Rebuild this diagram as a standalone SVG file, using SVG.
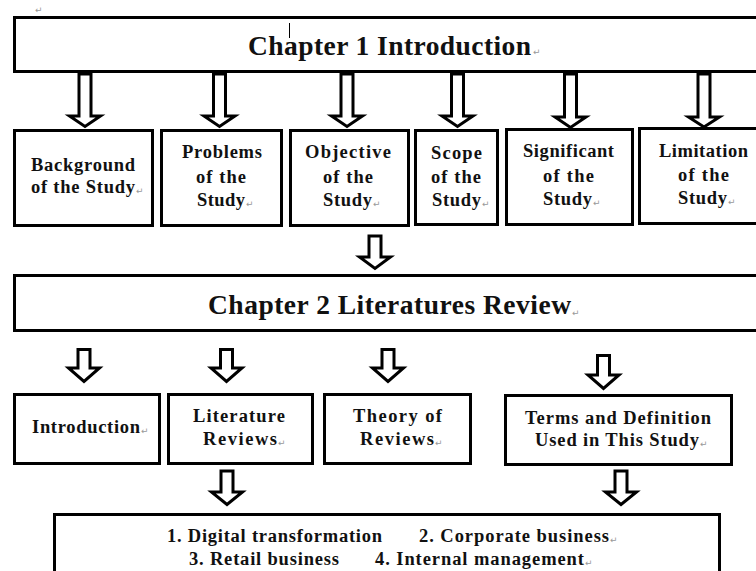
<svg xmlns="http://www.w3.org/2000/svg" width="756" height="571" viewBox="0 0 756 571">
<style>
.box{fill:#fff;stroke:#000;stroke-width:3}
.arr{fill:#fff;stroke:#000;stroke-width:3;stroke-linejoin:miter}
.t{font-family:"Liberation Serif","Times New Roman",serif;font-weight:bold;fill:#111}
.ch{font-size:27.5px}
.n{font-size:18.5px}
.b{font-size:18.5px}
.rm{font-family:"DejaVu Sans",sans-serif;font-size:9px;fill:#999}
</style>
<rect width="756" height="571" fill="#fff"/>
<text class="rm" x="35" y="13">↵</text>
<g id="connectors">
<path class="arr" d="M79 74 V116 H69.5 L85 126.5 L100.5 116 H91 V74 Z"/>
<path class="arr" d="M213.5 74 V116 H204 L219.5 126.5 L235 116 H225.5 V74 Z"/>
<path class="arr" d="M341 74 V116 H331.5 L347 126.5 L362.5 116 H353 V74 Z"/>
<path class="arr" d="M451.5 74 V116 H442 L457.5 126.5 L473 116 H463.5 V74 Z"/>
<path class="arr" d="M564.5 74 V117 H555 L570.5 127.5 L586 117 H576.5 V74 Z"/>
<path class="arr" d="M698 74 V117 H688.5 L704 127 L719.5 117 H710 V74 Z"/>
<path class="arr" d="M369 236 V257 H359.5 L375 268.5 L390.5 257 H381 V236 Z"/>
<path class="arr" d="M78 349.5 V368 H68.5 L84 381.5 L99.5 368 H90 V349.5 Z"/>
<path class="arr" d="M220.5 349.5 V368 H211 L226.5 381.5 L242 368 H232.5 V349.5 Z"/>
<path class="arr" d="M382 349.5 V368 H372.5 L388 381.5 L403.5 368 H394 V349.5 Z"/>
<path class="arr" d="M597.5 355.5 V375 H588 L603.5 388.5 L619 375 H609.5 V355.5 Z"/>
<path class="arr" d="M221 471 V492 H211.5 L227 504.5 L242.5 492 H233 V471 Z"/>
<path class="arr" d="M615 471 V492 H605.5 L621 504.5 L636.5 492 H627 V471 Z"/>
</g>
<g id="chapter1">
<rect class="box" x="14.5" y="17.5" width="750" height="54"/>
<text class="t ch" x="248" y="55" textLength="283" lengthAdjust="spacing">Chapter 1 Introduction</text>
<text class="rm" x="533" y="55">↵</text>
<line x1="289.5" y1="23" x2="289.5" y2="38" stroke="#000" stroke-width="1"/>
</g>
<g id="background">
<rect class="box" x="14.5" y="130.5" width="138" height="95"/>
<text class="t n" x="31" y="171" textLength="104" lengthAdjust="spacing">Background</text>
<text class="t n" x="31" y="193" textLength="104" lengthAdjust="spacing">of the Study</text>
<text class="rm" x="136" y="194">↵</text>
</g>
<g id="problems">
<rect class="box" x="161.5" y="130.5" width="120" height="95"/>
<text class="t n" x="182" y="158" textLength="80" lengthAdjust="spacing">Problems</text>
<text class="t n" x="196" y="183" textLength="50" lengthAdjust="spacing">of the</text>
<text class="t n" x="197" y="206" textLength="48" lengthAdjust="spacing">Study</text>
<text class="rm" x="246" y="207">↵</text>
</g>
<g id="objective">
<rect class="box" x="290.5" y="130.5" width="118" height="95"/>
<text class="t n" x="305" y="158" textLength="86" lengthAdjust="spacing">Objective</text>
<text class="t n" x="323" y="183" textLength="50" lengthAdjust="spacing">of the</text>
<text class="t n" x="323" y="206" textLength="49" lengthAdjust="spacing">Study</text>
<text class="rm" x="373" y="207">↵</text>
</g>
<g id="scope">
<rect class="box" x="415.5" y="130.5" width="82" height="94"/>
<text class="t n" x="431" y="159" textLength="51" lengthAdjust="spacing">Scope</text>
<text class="t n" x="431" y="183" textLength="50" lengthAdjust="spacing">of the</text>
<text class="t n" x="432" y="206" textLength="49" lengthAdjust="spacing">Study</text>
<text class="rm" x="482" y="207">↵</text>
</g>
<g id="significant">
<rect class="box" x="506.5" y="129.5" width="126" height="95"/>
<text class="t n" x="523" y="157" textLength="91" lengthAdjust="spacing">Significant</text>
<text class="t n" x="543" y="182" textLength="51" lengthAdjust="spacing">of the</text>
<text class="t n" x="543" y="205" textLength="49" lengthAdjust="spacing">Study</text>
<text class="rm" x="593" y="206">↵</text>
</g>
<g id="limitation">
<rect class="box" x="639.5" y="128.5" width="130" height="95"/>
<text class="t n" x="659" y="157" textLength="89" lengthAdjust="spacing">Limitation</text>
<text class="t n" x="678" y="181" textLength="51" lengthAdjust="spacing">of the</text>
<text class="t n" x="678" y="204" textLength="49" lengthAdjust="spacing">Study</text>
<text class="rm" x="728" y="205">↵</text>
</g>
<g id="chapter2">
<rect class="box" x="14.5" y="275.5" width="750" height="55"/>
<text class="t ch" x="208" y="314" textLength="363" lengthAdjust="spacing">Chapter 2 Literatures Review</text>
<text class="rm" x="572" y="316">↵</text>
</g>
<g id="introduction">
<rect class="box" x="14.5" y="394.5" width="145" height="69"/>
<text class="t n" x="32" y="433" textLength="108" lengthAdjust="spacing">Introduction</text>
<text class="rm" x="141" y="434">↵</text>
</g>
<g id="literature">
<rect class="box" x="168.5" y="394.5" width="144" height="69"/>
<text class="t n" x="193" y="422" textLength="92" lengthAdjust="spacing">Literature</text>
<text class="t n" x="203" y="445" textLength="74" lengthAdjust="spacing">Reviews</text>
<text class="rm" x="278" y="446">↵</text>
</g>
<g id="theory">
<rect class="box" x="324.5" y="394.5" width="146" height="69"/>
<text class="t n" x="353" y="422" textLength="89" lengthAdjust="spacing">Theory of</text>
<text class="t n" x="360" y="445" textLength="74" lengthAdjust="spacing">Reviews</text>
<text class="rm" x="435" y="446">↵</text>
</g>
<g id="terms">
<rect class="box" x="505.5" y="395.5" width="226" height="69"/>
<text class="t n" x="525" y="424" textLength="186" lengthAdjust="spacing">Terms and Definition</text>
<text class="t n" x="535" y="446" textLength="164" lengthAdjust="spacing">Used in This Study</text>
<text class="rm" x="700" y="447">↵</text>
</g>
<g id="topics">
<rect class="box" x="54.5" y="514.5" width="665" height="70"/>
<text class="t b" x="167" y="542" textLength="215" lengthAdjust="spacing">1. Digital transformation</text>
<text class="t b" x="419" y="542" textLength="190" lengthAdjust="spacing">2. Corporate business</text>
<text class="rm" x="610" y="543">↵</text>
<text class="t b" x="189" y="565" textLength="150" lengthAdjust="spacing">3. Retail business</text>
<text class="t b" x="375" y="565" textLength="209" lengthAdjust="spacing">4. Internal management</text>
<text class="rm" x="585" y="566">↵</text>
</g>
</svg>
